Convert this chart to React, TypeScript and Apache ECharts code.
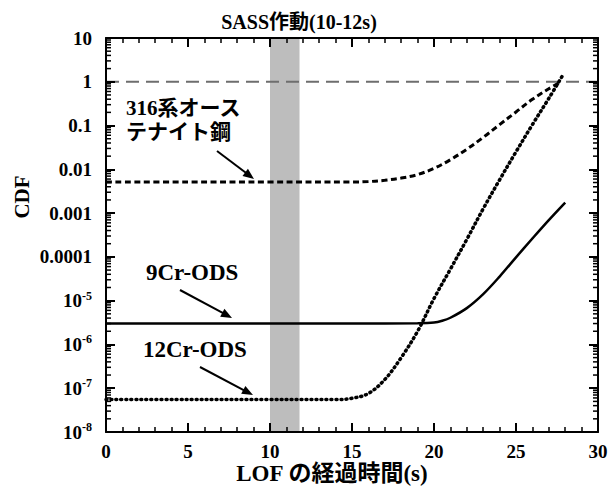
import React, { useEffect, useRef } from "react";
import * as echarts from "echarts";

// ---- data ----
const tAustenitic = [0, 5, 10, 15, 16, 17, 18, 19, 20, 21, 22, 23, 24, 25, 26, 27, 27.6];
const cdfAustenitic = [0.00513, 0.00513, 0.00513, 0.00513, 0.00525, 0.00562, 0.00631, 0.00759, 0.0105, 0.0166, 0.0288, 0.0537, 0.105, 0.204, 0.398, 0.692, 0.933];

const t9Cr = [0, 5, 10, 15, 19, 20, 20.5, 21, 22, 23, 24, 25, 26, 27, 28];
const cdf9Cr = [3.0e-6, 3.0e-6, 3.0e-6, 3.0e-6, 3.05e-6, 3.16e-6, 3.47e-6, 4.07e-6, 6.76e-6, 1.41e-5, 3.55e-5, 9.77e-5, 2.63e-4, 6.92e-4, 1.74e-3];

const t12Cr = [0, 5, 10, 14, 15, 16, 17, 18, 19, 20, 21, 22, 23, 24, 25, 26, 27, 27.9];
const cdf12Cr = [5.5e-8, 5.5e-8, 5.5e-8, 5.5e-8, 5.89e-8, 7.59e-8, 1.58e-7, 5.01e-7, 2.0e-6, 1.12e-5, 5.25e-5, 2.51e-4, 1.26e-3, 5.75e-3, 0.0251, 0.105, 0.417, 1.51];

const refLine = [[0, 1], [30, 1]];
const sassWindow = [10, 11.8];

const xMin = 0;
const xMax = 30;
const xInterval = 5;
const yMin = 1e-8;
const yMax = 10;

// tick labels by decade exponent
const yTickLabels: Record<string, string> = {
  "1": "10",
  "0": "1",
  "-1": "0.1",
  "-2": "0.01",
  "-3": "0.001",
  "-4": "0.0001",
  "-5": "{b|10}{s|-5}",
  "-6": "{b|10}{s|-6}",
  "-7": "{b|10}{s|-7}",
  "-8": "{b|10}{s|-8}",
};

// minor log ticks (2..9 within each decade)
const minorDecades = [-8, -7, -6, -5, -4, -3, -2, -1, 0];
const minorMultipliers = [2, 3, 4, 5, 6, 7, 8, 9];

const SERIF = '"Liberation Serif", "Times New Roman", "Noto Sans CJK JP", serif';

function arrow(x1: number, y1: number, x2: number, y2: number) {
  const dx = x2 - x1;
  const dy = y2 - y1;
  const len = Math.sqrt(dx * dx + dy * dy);
  const ux = dx / len;
  const uy = dy / len;
  const hl = 11;
  const hw = 4.5;
  const bx = x2 - ux * hl;
  const by = y2 - uy * hl;
  return [
    {
      type: "line",
      shape: { x1, y1, x2: bx + ux * 2, y2: by + uy * 2 },
      style: { stroke: "#000", lineWidth: 2 },
      z: 20,
    },
    {
      type: "polygon",
      shape: {
        points: [
          [x2, y2],
          [bx - uy * hw, by + ux * hw],
          [bx + uy * hw, by - ux * hw],
        ],
      },
      style: { fill: "#000" },
      z: 20,
    },
  ];
}

export default function App() {
  const ref = useRef<HTMLDivElement>(null);

  useEffect(() => {
    if (!ref.current) return;
    const chart = echarts.init(ref.current, undefined, { renderer: "svg" });

    const minorTicks: number[][] = [];
    minorDecades.forEach((d) =>
      minorMultipliers.forEach((m) => minorTicks.push([0, m * Math.pow(10, d)]))
    );

    const axisFont = {
      fontFamily: SERIF,
      fontWeight: "bold" as const,
      fontSize: 19,
      color: "#000",
    };

    const xAxisCommon = {
      type: "value" as const,
      min: xMin,
      max: xMax,
      interval: xInterval,
      z: 10,
      axisLine: { show: true, onZero: false, lineStyle: { color: "#000", width: 2 } },
      axisTick: { show: true, inside: true, length: 9, lineStyle: { color: "#000", width: 2 } },
      minorTick: { show: true, splitNumber: 5, length: 5, lineStyle: { color: "#000", width: 1.5 } },
      splitLine: { show: false },
    };

    const yAxisCommon = {
      type: "log" as const,
      logBase: 10,
      min: yMin,
      max: yMax,
      z: 10,
      axisLine: { show: true, onZero: false, lineStyle: { color: "#000", width: 2 } },
      axisTick: { show: true, inside: true, length: 9, lineStyle: { color: "#000", width: 2 } },
      splitLine: { show: false },
    };

    const option: any = {
      animation: false,
      backgroundColor: "#fff",
      grid: { left: 106, right: 14, top: 38, bottom: 56 },
      xAxis: [
        {
          ...xAxisCommon,
          position: "bottom",
          axisLabel: { ...axisFont, margin: 10 },
        },
        {
          ...xAxisCommon,
          position: "top",
          axisLabel: { show: false },
        },
      ],
      yAxis: [
        {
          ...yAxisCommon,
          position: "left",
          axisLabel: {
            ...axisFont,
            margin: 14,
            formatter: (v: number) => {
              const e = Math.round(Math.log10(v));
              return yTickLabels[String(e)] ?? "";
            },
            rich: {
              b: { ...axisFont, lineHeight: 22 },
              s: {
                fontFamily: SERIF,
                fontWeight: "bold",
                fontSize: 12,
                color: "#000",
                verticalAlign: "top",
                lineHeight: 22,
              },
            },
          },
        },
        {
          ...yAxisCommon,
          position: "right",
          axisLabel: { show: false },
        },
      ],
      graphic: [
        {
          type: "text",
          x: 299,
          y: 22,
          style: {
            text: "SASS作動(10-12s)",
            font: `bold 20px ${SERIF}`,
            fill: "#000",
            align: "center",
            verticalAlign: "middle",
          },
        },
        {
          type: "text",
          x: 22,
          y: 197,
          rotation: Math.PI / 2,
          style: {
            text: "CDF",
            font: `bold 21px ${SERIF}`,
            fill: "#000",
            align: "center",
            verticalAlign: "middle",
          },
        },
        {
          type: "text",
          x: 332,
          y: 473,
          style: {
            text: "LOF の経過時間(s)",
            font: `bold 23px ${SERIF}`,
            fill: "#000",
            align: "center",
            verticalAlign: "middle",
          },
        },
        {
          type: "text",
          x: 126,
          y: 108,
          z: 20,
          style: {
            text: "316系オース",
            font: `bold 21px ${SERIF}`,
            fill: "#000",
            align: "left",
            verticalAlign: "middle",
          },
        },
        {
          type: "text",
          x: 126,
          y: 132,
          z: 20,
          style: {
            text: "テナイト鋼",
            font: `bold 21px ${SERIF}`,
            fill: "#000",
            align: "left",
            verticalAlign: "middle",
          },
        },
        {
          type: "text",
          x: 146,
          y: 272,
          z: 20,
          style: {
            text: "9Cr-ODS",
            font: `bold 23px ${SERIF}`,
            fill: "#000",
            align: "left",
            verticalAlign: "middle",
          },
        },
        {
          type: "text",
          x: 143,
          y: 349,
          z: 20,
          style: {
            text: "12Cr-ODS",
            font: `bold 23px ${SERIF}`,
            fill: "#000",
            align: "left",
            verticalAlign: "middle",
          },
        },
        ...arrow(217, 151, 254, 179),
        ...arrow(180, 290, 232, 318),
        ...arrow(200, 367, 253, 395),
      ],
      series: [
        {
          name: "ref",
          type: "line",
          data: refLine,
          showSymbol: false,
          silent: true,
          z: 2,
          lineStyle: { color: "#6e6e6e", width: 2, type: [13, 7] },
          markArea: {
            silent: true,
            itemStyle: { color: "#bdbdbd", opacity: 1 },
            data: [[{ xAxis: sassWindow[0] }, { xAxis: sassWindow[1] }]],
          },
        },
        {
          name: "minorTicks",
          type: "custom",
          silent: true,
          clip: false,
          z: 11,
          encode: { x: 0, y: 1 },
          data: minorTicks,
          renderItem: (params: any, api: any) => {
            const p = api.coord([0, api.value(1)]);
            const cs = params.coordSys;
            return {
              type: "group",
              children: [
                {
                  type: "line",
                  shape: { x1: cs.x, y1: p[1], x2: cs.x + 5, y2: p[1] },
                  style: { stroke: "#000", lineWidth: 1.5 },
                },
                {
                  type: "line",
                  shape: { x1: cs.x + cs.width - 5, y1: p[1], x2: cs.x + cs.width, y2: p[1] },
                  style: { stroke: "#000", lineWidth: 1.5 },
                },
              ],
            };
          },
        },
        {
          name: "316系オーステナイト鋼",
          type: "line",
          data: tAustenitic.map((t, i) => [t, cdfAustenitic[i]]),
          showSymbol: false,
          smooth: 0.35,
          z: 5,
          lineStyle: { color: "#000", width: 3, type: [6, 3.5] },
        },
        {
          name: "9Cr-ODS",
          type: "line",
          data: t9Cr.map((t, i) => [t, cdf9Cr[i]]),
          showSymbol: false,
          smooth: 0.35,
          z: 5,
          lineStyle: { color: "#000", width: 2.5 },
        },
        {
          name: "12Cr-ODS",
          type: "line",
          data: t12Cr.map((t, i) => [t, cdf12Cr[i]]),
          showSymbol: false,
          smooth: 0.35,
          z: 5,
          lineStyle: { color: "#000", width: 3.5, type: [1, 4], cap: "round" },
        },
      ],
    };

    chart.setOption(option);
    return () => chart.dispose();
  }, []);

  return (
    <div
      ref={ref}
      style={{ position: "fixed", left: 0, top: 0, width: 612, height: 488, background: "#fff" }}
    />
  );
}
